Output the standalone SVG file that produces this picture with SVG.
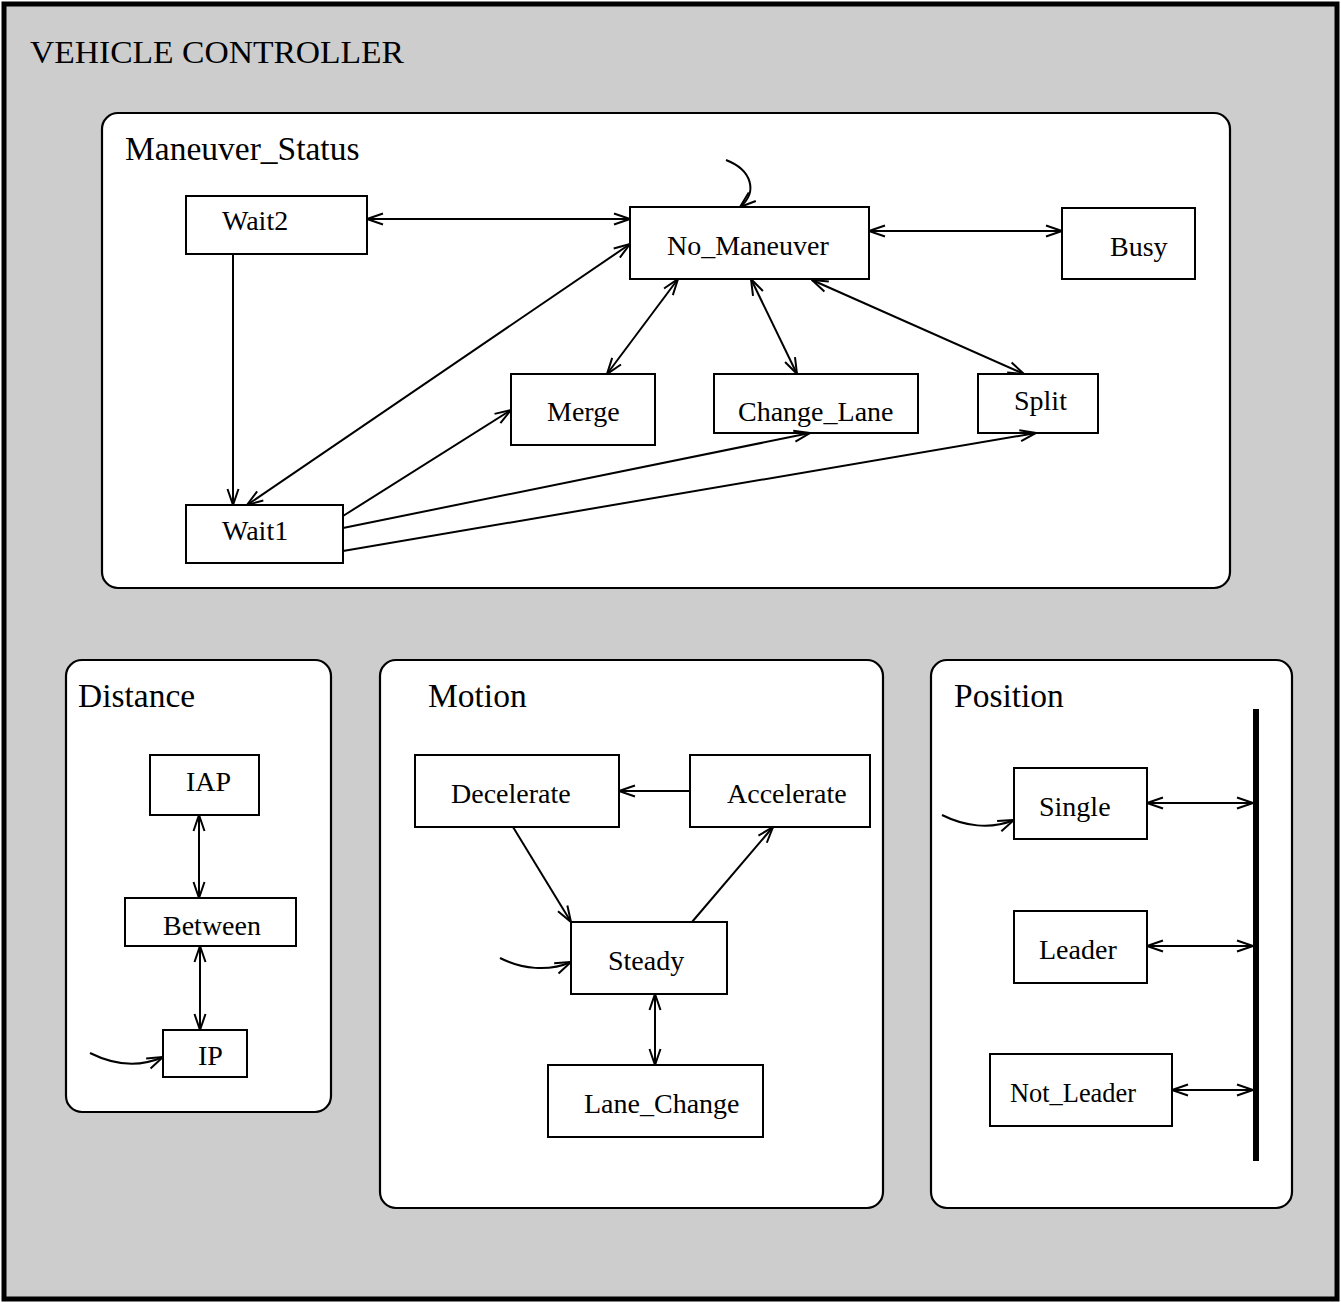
<svg xmlns="http://www.w3.org/2000/svg" width="1341" height="1302" viewBox="0 0 1341 1302">
  <style>
    .frame { fill: #cdcdcd; stroke: #000; stroke-width: 5; }
    .panel { fill: #fff; stroke: #000; stroke-width: 2.2; }
    .state { fill: #fff; stroke: #000; stroke-width: 2; }
    .title { font-family: "Liberation Serif", "Times New Roman", serif; font-size: 32px; fill: #000; }
    .ptitle { font-family: "Liberation Serif", "Times New Roman", serif; font-size: 33.5px; fill: #000; }
    .label { font-family: "Liberation Serif", "Times New Roman", serif; font-size: 28px; fill: #000; }
    .edge { fill: none; stroke: #000; stroke-width: 2; }
    .both { marker-start: url(#arrow); marker-end: url(#arrow); }
    .one { marker-end: url(#arrow); }
    .bar { stroke: #000; stroke-width: 6; }
  </style>
  <defs>
    <marker id="arrow" viewBox="0 0 18 14" refX="17" refY="7" markerWidth="18" markerHeight="14" markerUnits="userSpaceOnUse" orient="auto-start-reverse">
      <path d="M1,1.5 L17,7 L1,12.5" fill="none" stroke="#000" stroke-width="2"/>
    </marker>
  </defs>

  <!-- outer controller frame -->
  <rect class="frame" x="4" y="4" width="1333" height="1295"/>
  <text class="title" x="30" y="63" textLength="374" lengthAdjust="spacingAndGlyphs">VEHICLE CONTROLLER</text>

  <!-- sub-machine panels -->
  <g id="maneuver-status">
    <rect class="panel" x="102" y="113" width="1128" height="475" rx="16"/>
    <text class="ptitle" x="125" y="160">Maneuver_Status</text>
  </g>
  <g id="distance">
    <rect class="panel" x="66" y="660" width="265" height="452" rx="16"/>
    <text class="ptitle" x="78" y="707">Distance</text>
  </g>
  <g id="motion">
    <rect class="panel" x="380" y="660" width="503" height="548" rx="16"/>
    <text class="ptitle" x="428" y="707">Motion</text>
  </g>
  <g id="position">
    <rect class="panel" x="931" y="660" width="361" height="548" rx="16"/>
    <text class="ptitle" x="954" y="707">Position</text>
  </g>

  <!-- Maneuver_Status states -->
  <g id="wait2"><rect class="state" x="186" y="196" width="181" height="58"/><text class="label" x="222" y="230">Wait2</text></g>
  <g id="no-maneuver"><rect class="state" x="630" y="207" width="239" height="72"/><text class="label" x="667" y="255">No_Maneuver</text></g>
  <g id="busy"><rect class="state" x="1062" y="208" width="133" height="71"/><text class="label" x="1110" y="256">Busy</text></g>
  <g id="merge"><rect class="state" x="511" y="374" width="144" height="71"/><text class="label" x="547" y="421">Merge</text></g>
  <g id="change-lane"><rect class="state" x="714" y="374" width="204" height="59"/><text class="label" x="738" y="421">Change_Lane</text></g>
  <g id="split"><rect class="state" x="978" y="374" width="120" height="59"/><text class="label" x="1014" y="410">Split</text></g>
  <g id="wait1"><rect class="state" x="186" y="505" width="157" height="58"/><text class="label" x="222" y="540">Wait1</text></g>

  <!-- Distance states -->
  <g id="iap"><rect class="state" x="150" y="755" width="109" height="60"/><text class="label" x="186" y="791">IAP</text></g>
  <g id="between"><rect class="state" x="125" y="898" width="171" height="48"/><text class="label" x="163" y="935">Between</text></g>
  <g id="ip"><rect class="state" x="163" y="1030" width="84" height="47"/><text class="label" x="198" y="1065">IP</text></g>

  <!-- Motion states -->
  <g id="decelerate"><rect class="state" x="415" y="755" width="204" height="72"/><text class="label" x="451" y="803">Decelerate</text></g>
  <g id="accelerate"><rect class="state" x="690" y="755" width="180" height="72"/><text class="label" x="727" y="803">Accelerate</text></g>
  <g id="steady"><rect class="state" x="571" y="922" width="156" height="72"/><text class="label" x="608" y="970">Steady</text></g>
  <g id="lane-change"><rect class="state" x="548" y="1065" width="215" height="72"/><text class="label" x="584" y="1113">Lane_Change</text></g>

  <!-- Position states -->
  <g id="single"><rect class="state" x="1014" y="768" width="133" height="71"/><text class="label" x="1039" y="816">Single</text></g>
  <g id="leader"><rect class="state" x="1014" y="911" width="133" height="72"/><text class="label" x="1039" y="959">Leader</text></g>
  <g id="not-leader"><rect class="state" x="990" y="1054" width="182" height="72"/><text class="label" x="1010" y="1102" textLength="126" lengthAdjust="spacingAndGlyphs">Not_Leader</text></g>
  <g id="position-bar"><line class="bar" x1="1256" y1="709" x2="1256" y2="1161"/></g>

  <!-- transitions -->
  <g id="connectors">
    <!-- Maneuver_Status -->
    <line class="edge both" x1="367" y1="219" x2="630" y2="219"/>
    <line class="edge both" x1="869" y1="231" x2="1062" y2="231"/>
    <path class="edge one" d="M726,160 C752,170 758,192 740,207"/>
    <line class="edge one" x1="233" y1="254" x2="233" y2="505"/>
    <line class="edge both" x1="630" y1="244" x2="247" y2="505"/>
    <line class="edge both" x1="678" y1="279" x2="607" y2="374"/>
    <line class="edge both" x1="751" y1="279" x2="797" y2="374"/>
    <line class="edge both" x1="812" y1="280" x2="1024" y2="374"/>
    <line class="edge one" x1="343" y1="516" x2="511" y2="410"/>
    <line class="edge one" x1="343" y1="528" x2="810" y2="433"/>
    <line class="edge one" x1="343" y1="551" x2="1036" y2="433"/>

    <!-- Distance -->
    <line class="edge both" x1="199" y1="815" x2="199" y2="898"/>
    <line class="edge both" x1="200" y1="946" x2="200" y2="1030"/>
    <path class="edge one" d="M90,1053 C112,1064 138,1068 163,1057"/>

    <!-- Motion -->
    <line class="edge one" x1="690" y1="791" x2="619" y2="791"/>
    <line class="edge one" x1="513" y1="827" x2="571" y2="922"/>
    <line class="edge one" x1="692" y1="922" x2="773" y2="827"/>
    <line class="edge both" x1="655" y1="994" x2="655" y2="1065"/>
    <path class="edge one" d="M500,958 C522,969 548,972 571,962"/>

    <!-- Position -->
    <line class="edge both" x1="1147" y1="803" x2="1253" y2="803"/>
    <line class="edge both" x1="1147" y1="946" x2="1253" y2="946"/>
    <line class="edge both" x1="1172" y1="1090" x2="1253" y2="1090"/>
    <path class="edge one" d="M942,815 C964,826 990,830 1014,820"/>
  </g>
</svg>
